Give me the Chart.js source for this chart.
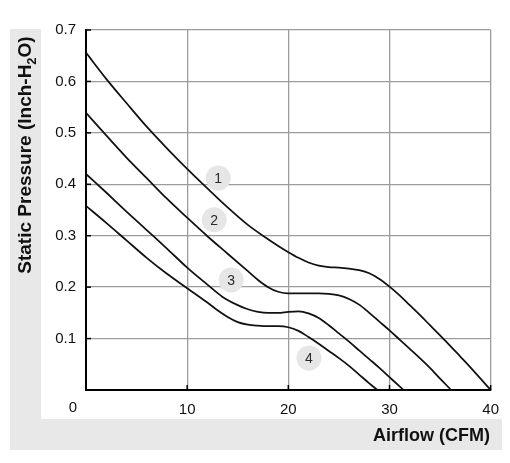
<!DOCTYPE html>
<html><head><meta charset="utf-8">
<script src="https://cdn.jsdelivr.net/npm/chart.js@4.4.0/dist/chart.umd.min.js"></script>
<style>html,body{margin:0;padding:0;background:#fff}</style>
</head><body>
<canvas id="c" width="510" height="463" style="display:block;width:510px;height:463px"></canvas>
<script>
// ---- data ----
const xTickValues = [0, 10, 20, 30, 40];
const yTickValues = [0, 0.1, 0.2, 0.3, 0.4, 0.5, 0.6, 0.7];

const curve1X = [0,2,4,6,8,10,12,14,16,18,19,20,21,22,23,24,25,26,27,28,29,30,31,32,33,34,35,36,37,38,39,40];
const curve1Y = [0.656,0.605,0.558,0.512,0.470,0.430,0.392,0.355,0.321,0.293,0.280,0.268,0.257,0.248,0.242,0.239,0.238,0.236,0.233,0.227,0.216,0.201,0.184,0.165,0.146,0.126,0.106,0.086,0.065,0.044,0.022,0.0];

const curve2X = [0,2,4,6,8,10,12,14,16,17,18,19,20,21,22,23,24,25,26,27,28,29,30,31,32,33,34,35,36.1];
const curve2Y = [0.539,0.495,0.452,0.412,0.372,0.335,0.299,0.265,0.231,0.214,0.200,0.191,0.188,0.188,0.188,0.188,0.187,0.184,0.177,0.166,0.150,0.133,0.116,0.098,0.080,0.062,0.043,0.022,0.0];

const curve3X = [0,2,4,6,8,10,12,13.5,15,16,17,18,19,20,21,22,23,24,25,26,27,28,29,30,31,31.4];
const curve3Y = [0.420,0.384,0.347,0.311,0.275,0.238,0.205,0.181,0.165,0.157,0.152,0.150,0.150,0.152,0.153,0.149,0.140,0.126,0.110,0.094,0.077,0.060,0.043,0.025,0.007,0.0];

const curve4X = [0,2,4,6,8,10,12,13,14,15,16,17,18,19,20,21,22,23,24,25,26,27,28,28.8];
const curve4Y = [0.358,0.325,0.291,0.257,0.226,0.198,0.170,0.155,0.142,0.132,0.127,0.125,0.124,0.124,0.122,0.115,0.103,0.090,0.076,0.062,0.047,0.030,0.013,0.0];

const labelNames = ['1', '2', '3', '4'];
const labelX = [13.07, 12.67, 14.35, 22.04];
const labelY = [0.412, 0.331, 0.214, 0.062];

const xTitle = 'Airflow (CFM)';
const yTitleParts = ['Static Pressure (Inch-H', '2', 'O)'];
const originLabel = '0';

// ---- helpers ----
const FONT = '"Liberation Sans", Arial, Helvetica, sans-serif';
function pts(xs, ys) { return xs.map((x, i) => ({ x: x, y: ys[i] })); }
function curve(xs, ys) {
  return {
    data: pts(xs, ys), showLine: true, borderColor: '#111111', borderWidth: 1.75,
    pointRadius: 0, pointHoverRadius: 0, cubicInterpolationMode: 'monotone', fill: false
  };
}

const framePlugin = {
  id: 'frame',
  beforeDraw(chart) {
    const ctx = chart.ctx;
    ctx.save();
    ctx.fillStyle = '#ffffff';
    ctx.fillRect(0, 0, chart.width, chart.height);
    ctx.fillStyle = '#e8e8e8';
    ctx.fillRect(10, 29, 31, 421);
    ctx.fillRect(10, 419, 492, 31);
    ctx.restore();
  },
  afterDraw(chart) {
    const ctx = chart.ctx;
    const xs = chart.scales.x, ys = chart.scales.y;
    const area = chart.chartArea;
    ctx.save();
    // inner black tick marks
    ctx.strokeStyle = '#000';
    ctx.lineWidth = 1.5;
    ys.ticks.forEach(t => {
      const py = ys.getPixelForValue(t.value);
      ctx.beginPath(); ctx.moveTo(area.left, py); ctx.lineTo(area.left + 5, py); ctx.stroke();
    });
    xs.ticks.forEach(t => {
      const px = xs.getPixelForValue(t.value);
      ctx.beginPath(); ctx.moveTo(px, area.bottom); ctx.lineTo(px, area.bottom - 5); ctx.stroke();
    });
    // curve labels text
    const meta = chart.getDatasetMeta(4);
    ctx.fillStyle = '#2a2a2a';
    ctx.font = '14px ' + FONT;
    ctx.textAlign = 'center';
    ctx.textBaseline = 'middle';
    meta.data.forEach((el, i) => { ctx.fillText(labelNames[i], el.x, el.y + 1); });
    // origin label
    ctx.fillStyle = '#111';
    ctx.font = '15px ' + FONT;
    ctx.textBaseline = 'middle';
    ctx.fillText(originLabel, area.left - 13, area.bottom + 18);
    // x title
    ctx.font = 'bold 18px ' + FONT;
    ctx.textAlign = 'right';
    ctx.textBaseline = 'alphabetic';
    ctx.fillText(xTitle, 490, 441);
    // y title with subscript
    ctx.translate(31, 155);
    ctx.rotate(-Math.PI / 2);
    const big = 'bold 19px ' + FONT, small = 'bold 13px ' + FONT;
    ctx.font = big; const w0 = ctx.measureText(yTitleParts[0]).width;
    const w2 = ctx.measureText(yTitleParts[2]).width;
    ctx.font = small; const w1 = ctx.measureText(yTitleParts[1]).width;
    let cx = -(w0 + w1 + w2) / 2;
    ctx.textAlign = 'left';
    ctx.font = big; ctx.fillText(yTitleParts[0], cx, 0); cx += w0;
    ctx.font = small; ctx.fillText(yTitleParts[1], cx, 5); cx += w1;
    ctx.font = big; ctx.fillText(yTitleParts[2], cx, 0);
    ctx.restore();
  }
};

new Chart(document.getElementById('c'), {
  type: 'scatter',
  data: {
    datasets: [
      curve(curve1X, curve1Y),
      curve(curve2X, curve2Y),
      curve(curve3X, curve3Y),
      curve(curve4X, curve4Y),
      {
        data: pts(labelX, labelY), showLine: false, pointRadius: 12.5, pointHoverRadius: 12.5,
        pointBackgroundColor: '#e6e6e6', pointBorderWidth: 0, pointBorderColor: 'rgba(0,0,0,0)'
      }
    ]
  },
  options: {
    responsive: false, animation: false, devicePixelRatio: 1,
    layout: { padding: { left: 0, right: 18, top: 30, bottom: 0 } },
    plugins: { legend: { display: false }, tooltip: { enabled: false }, title: { display: false } },
    events: [],
    scales: {
      x: {
        type: 'linear', min: 0, max: 40,
        afterBuildTicks: s => { s.ticks = xTickValues.map(v => ({ value: v })); },
        afterFit: s => { s.height = 73; },
        ticks: {
          callback: v => (v === 0 ? '' : String(v)),
          color: '#111', font: { size: 15, family: FONT }, padding: 11, maxRotation: 0, autoSkip: false
        },
        grid: { color: '#9c9c9c', lineWidth: 1.3, drawTicks: false },
        border: { color: '#000', width: 2 }
      },
      y: {
        type: 'linear', min: 0, max: 0.7,
        afterBuildTicks: s => { s.ticks = yTickValues.map(v => ({ value: v })); },
        afterFit: s => { s.width = 86; },
        ticks: {
          callback: v => (v === 0 ? '' : v.toFixed(1)),
          color: '#111', font: { size: 15, family: FONT }, padding: 10, autoSkip: false
        },
        grid: { color: '#9c9c9c', lineWidth: 1.3, drawTicks: false },
        border: { color: '#000', width: 2 }
      }
    }
  },
  plugins: [framePlugin]
});
</script>
</body></html>
